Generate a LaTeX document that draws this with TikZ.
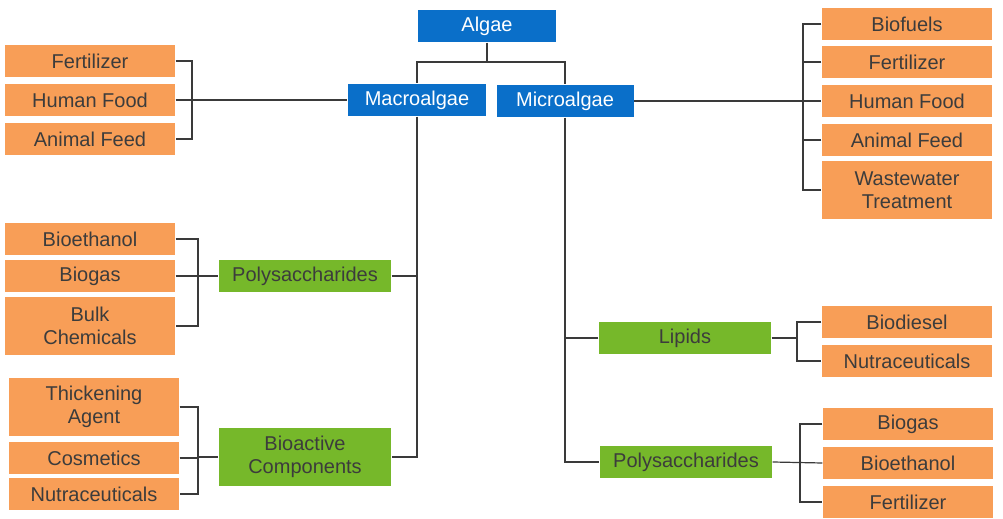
\documentclass[tikz,border=0pt]{standalone}
\usepackage{fontspec}
\setmainfont{Liberation Sans}
\usepackage{tikz}
\usetikzlibrary{positioning}
\definecolor{algblue}{HTML}{0A6FC9}
\definecolor{algorange}{HTML}{F89E57}
\definecolor{alggreen}{HTML}{76B82A}
\definecolor{algline}{HTML}{3A3A3A}
\definecolor{algtext}{HTML}{3C3C3C}

\begin{document}
\begin{tikzpicture}[x=0.5pt, y=-0.5pt, line width=0.6pt, font=\fontsize{10}{11.5}\selectfont,
  bluebox/.style={fill=algblue, text=white, minimum height=16pt, inner sep=0pt, align=center},
  orangebox/.style={fill=algorange, text=algtext, minimum width=85pt, minimum height=16pt, inner sep=0pt, align=center},
  greenbox/.style={fill=alggreen, text=algtext, minimum width=86pt, minimum height=16pt, inner sep=0pt, align=center},
  link/.style={draw=algline}]

\useasboundingbox (0,0) rectangle (1003,519);

% main branches
\node[bluebox, minimum width=69pt] (algae) at (487,26) {Algae};
\node[bluebox, minimum width=69pt] (macro) at (417,100) {Macroalgae};
\node[bluebox, minimum width=68.5pt] (micro) at (565,101) {Microalgae};

\node[greenbox] (mpoly) at (305,276) {Polysaccharides};
\node[greenbox, minimum height=29pt] (mbio) at (305,457) {Bioactive\\Components};
\node[greenbox] (lipids) at (685,338) {Lipids};
\node[greenbox] (upoly) at (686,462) {Polysaccharides};

% macroalgae products
\node[orangebox] (mfert) at (90,61) {Fertilizer};
\node[orangebox] (mfood) at (90,100) {Human Food};
\node[orangebox] (mfeed) at (90,139) {Animal Feed};
\node[orangebox] (mbeth) at (90,239) {Bioethanol};
\node[orangebox] (mbgas) at (90,276) {Biogas};
\node[orangebox, minimum height=29pt] (mbulk) at (90,326) {Bulk\\Chemicals};
\node[orangebox, minimum height=29pt] (mthick) at (94,407) {Thickening\\Agent};
\node[orangebox] (mcosm) at (94,458) {Cosmetics};
\node[orangebox] (mnutr) at (94,494) {Nutraceuticals};

% microalgae products
\node[orangebox] (ufuel) at (907,24) {Biofuels};
\node[orangebox] (ufert) at (907,62) {Fertilizer};
\node[orangebox] (ufood) at (907,101) {Human Food};
\node[orangebox] (ufeed) at (907,140) {Animal Feed};
\node[orangebox, minimum height=29pt] (uwater) at (907,190) {Wastewater\\Treatment};
\node[orangebox] (udies) at (907,322) {Biodiesel};
\node[orangebox] (unutr) at (907,361) {Nutraceuticals};
\node[orangebox] (ugas) at (908,424) {Biogas};
\node[orangebox] (ueth) at (908,463) {Bioethanol};
\node[orangebox] (ufert2) at (908,502) {Fertilizer};

% joints
\coordinate (top) at (487,62);
\coordinate (mj1) at (192,100);
\coordinate (mj2) at (198,276);
\coordinate (mj3) at (198,457);
\coordinate (mtrunk) at (417,457);
\coordinate (uj1) at (803,101);
\coordinate (uj2) at (797,338);
\coordinate (uj3) at (800,462);
\coordinate (utrunk) at (565,462);

\draw[link] (algae.south) -- (top) -| (macro.north);
\draw[link] (top) -| (micro.north);

\draw[link] (mfert.east) -| (mj1) |- (mfeed.east);
\draw[link] (mfood.east) -- (macro.west);
\draw[link] (mbeth.east) -| (mj2) |- (mbulk.east);
\draw[link] (mbgas.east) -- (mpoly.west);
\draw[link] (mthick.east) -| (mj3) |- (mnutr.east);
\draw[link] (mcosm.east) -| (mj3) -- (mbio.west);
\draw[link] (macro.south) -- (mtrunk) -- (mbio.east);
\draw[link] (mpoly.east) -| (macro.south);

\draw[link] (ufuel.west) -| (uj1) |- (uwater.west);
\draw[link] (ufert.west) -| (uj1);
\draw[link] (ufeed.west) -| (uj1);
\draw[link] (micro.east) -- (ufood.west);
\draw[link] (micro.south) -- (utrunk) -- (upoly.west);
\draw[link] (lipids.west) -| (micro.south);
\draw[link] (udies.west) -| (uj2) |- (unutr.west);
\draw[link] (lipids.east) -- (uj2);
\draw[link] (ugas.west) -| (uj3) |- (ufert2.west);
\draw[link] (upoly.east) -- (ueth.west);

\end{tikzpicture}
\end{document}
